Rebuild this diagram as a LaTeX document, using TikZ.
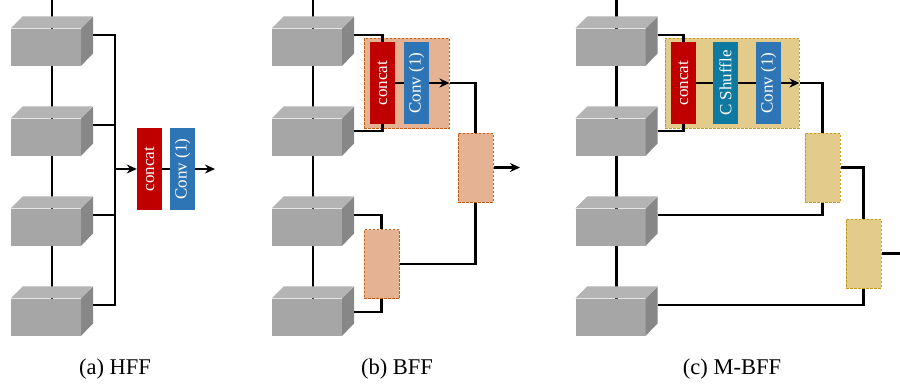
\documentclass[tikz,border=0pt]{standalone}
\usepackage{fontspec}
\setmainfont{Liberation Serif}
\usetikzlibrary{positioning,arrows.meta}

\definecolor{grayFront}{HTML}{A6A6A6}
\definecolor{grayTop}{HTML}{B4B4B4}
\definecolor{graySide}{HTML}{878787}
\definecolor{concatRed}{HTML}{C00000}
\definecolor{convBlue}{HTML}{2E75B6}
\definecolor{shuffleTeal}{HTML}{10799F}
\definecolor{orangeFill}{HTML}{E5B393}
\definecolor{orangeLine}{HTML}{C55A11}
\definecolor{yellowFill}{HTML}{E2CB8B}
\definecolor{yellowLine}{HTML}{C49A1C}

\begin{document}
\begin{tikzpicture}[x=1pt, y=-1pt,
    cube/.style={minimum width=70pt, minimum height=37pt, inner sep=0pt, fill=grayFront},
    layer/.style={minimum width=25pt, minimum height=82pt, inner sep=0pt, text=white,
      font=\fontsize{17}{17}\selectfont},
    orangeBox/.style={fill=orangeFill, draw=orangeLine, dash pattern=on 2.5pt off 1.5pt, line width=1pt, inner sep=0pt},
    yellowBox/.style={fill=yellowFill, draw=yellowLine, dash pattern=on 2.5pt off 1.5pt, line width=1pt, inner sep=0pt},
    fuse/.style={minimum width=35pt, minimum height=69pt},
    link/.style={line width=2.9pt},
    arrow/.style={->, >={Stealth[length=10pt, width=9pt]}, line width=2.9pt},
    caption/.style={font=\fontsize{22.5}{26}\selectfont}]

  \useasboundingbox (0,0) rectangle (900,384);

  % Backbone stacks
  \foreach \p/\cx in {a/46, b/307, c/610.5}{
    \coordinate (\p0) at (\cx+6,0);
    \draw[link] (\p0) -- (\cx+6,317);
    \foreach \i/\cy in {1/47, 2/137, 3/227, 4/317}{
      \node[cube] (\p\i) at (\cx,\cy) {};
      \fill[grayTop] (\p\i.north west) -- ++(12,-12) -- ++(70,0) -- (\p\i.north east) -- cycle;
      \fill[graySide] (\p\i.north east) -- ++(12,-12) -- ++(0,37) -- (\p\i.south east) -- cycle;
    }
  }

  % (a) HFF
  \coordinate (abus) at (115,169);
  \node[layer, fill=concatRed] (acat) at (149.5,169) {\rotatebox{90}{concat}};
  \node[layer, fill=convBlue] (aconv) at (182.5,169) {\rotatebox{90}{Conv (1)}};
  \coordinate (aout) at (215,169);

  \foreach \i in {1,...,4}
    \draw[link] ([shift={(12,-12)}]a\i.east) -| (abus);
  \draw[arrow] (abus) -- (acat.west);
  \draw[link] (acat.east) -- (aconv.west);
  \draw[arrow] (aconv.east) -- (aout);

  % (b) BFF
  \node[orangeBox, minimum width=85pt, minimum height=90pt] (bgrp) at (406.5,83) {};
  \node[layer, fill=concatRed] (bcat) at (382.5,83) {\rotatebox{90}{concat}};
  \node[layer, fill=convBlue] (bconv) at (416.5,83) {\rotatebox{90}{Conv (1)}};
  \node[orangeBox, fuse] (bL) at (381.5,264) {};
  \node[orangeBox, fuse] (bR) at (475.5,167.5) {};
  \coordinate (bout) at (520,167.5);

  \draw[link] ([shift={(12,-12)}]b1.east) -| (bcat.north);
  \draw[link] ([shift={(12,-6)}]b2.east) -| (bcat.south);
  \draw[link] ([shift={(12,-12)}]b3.east) -| (bL.north);
  \draw[link] ([shift={(12,-5)}]b4.east) -| (bL.south);
  \draw[link] (bcat.east) -- (bconv.west);
  \draw[arrow] (bconv.east) -- (bgrp.east);
  \draw[link] (bgrp.east) -| (bR.north);
  \draw[link] (bL.east) -| (bR.south);
  \draw[arrow] (bR.east) -- (bout);

  % (c) M-BFF
  \node[yellowBox, minimum width=134pt, minimum height=90pt] (cgrp) at (732,83) {};
  \node[layer, fill=concatRed] (ccat) at (683.5,83) {\rotatebox{90}{concat}};
  \node[layer, fill=shuffleTeal] (cshuf) at (725.5,83) {\rotatebox{90}{C Shuffle}};
  \node[layer, fill=convBlue] (cconv) at (768.5,83) {\rotatebox{90}{Conv (1)}};
  \node[yellowBox, fuse] (cF1) at (822.5,167.5) {};
  \node[yellowBox, fuse] (cF2) at (863.5,253.5) {};
  \coordinate (cout) at (900,253.5);

  \draw[link] ([shift={(12,-12)}]c1.east) -| (ccat.north);
  \draw[link] ([shift={(12,-6)}]c2.east) -| (ccat.south);
  \draw[link] ([shift={(12,-12)}]c3.east) -| (cF1.south);
  \draw[link] ([shift={(12,-12)}]c4.east) -| (cF2.south);
  \draw[link] (ccat.east) -- (cshuf.west);
  \draw[link] (cshuf.east) -- (cconv.west);
  \draw[arrow] (cconv.east) -- (cgrp.east);
  \draw[link] (cgrp.east) -| (cF1.north);
  \draw[link] (cF1.east) -| (cF2.north);
  \draw[link] (cF2.east) -- (cout);

  % Captions
  \node[caption] (capA) at (115,369) {(a) HFF};
  \node[caption] (capB) at (397,369) {(b) BFF};
  \node[caption] (capC) at (732,369) {(c) M-BFF};

\end{tikzpicture}
\end{document}
